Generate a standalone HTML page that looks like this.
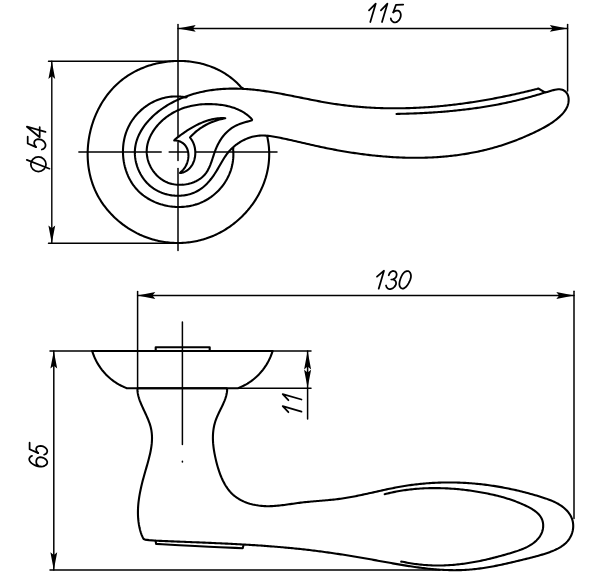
<!DOCTYPE html>
<html><head><meta charset="utf-8"><style>
html,body{margin:0;padding:0;background:#fff;}
svg{display:block;}
text{font-family:"Liberation Sans",sans-serif;font-style:italic;fill:#000;}
</style></head><body>
<svg width="600" height="574" viewBox="0 0 600 574">
<g stroke="#000" fill="none" stroke-linecap="round" stroke-linejoin="round">
<line x1="178.00" y1="28.40" x2="567.50" y2="28.40" stroke-width="1.50"/>
<path d="M178.00,28.40 L195.70,25.00 L192.90,28.40 L195.70,31.80 Z" fill="#000" stroke="none"/>
<path d="M567.50,28.40 L549.80,31.80 L552.60,28.40 L549.80,25.00 Z" fill="#000" stroke="none"/>
<line x1="178.00" y1="24.50" x2="178.00" y2="137.50" stroke-width="1.50"/>
<line x1="178.00" y1="142.50" x2="178.00" y2="160.50" stroke-width="1.50"/>
<line x1="178.00" y1="168.50" x2="178.00" y2="250.50" stroke-width="1.50"/>
<line x1="567.60" y1="24.50" x2="567.60" y2="91.00" stroke-width="1.50"/>
<line x1="51.80" y1="61.20" x2="51.80" y2="243.20" stroke-width="1.40"/>
<path d="M51.80,61.20 L55.20,78.90 L51.80,76.10 L48.40,78.90 Z" fill="#000" stroke="none"/>
<path d="M51.80,243.20 L48.40,225.50 L51.80,228.30 L55.20,225.50 Z" fill="#000" stroke="none"/>
<line x1="48.50" y1="61.20" x2="178.00" y2="61.20" stroke-width="1.50"/>
<line x1="48.50" y1="243.20" x2="178.00" y2="243.20" stroke-width="1.50"/>
<line x1="78.90" y1="152.00" x2="161.20" y2="152.00" stroke-width="1.50"/>
<line x1="169.20" y1="152.00" x2="277.00" y2="152.00" stroke-width="1.50"/>
<path d="M242.60,87.90 L241.44,87.62 L240.40,86.45 L239.35,85.31 L238.28,84.19 L237.18,83.11 L236.07,82.05 L234.94,81.01 L233.79,80.01 L232.61,79.03 L231.43,78.07 L230.22,77.14 L229.00,76.24 L227.76,75.37 L226.50,74.52 L225.23,73.70 L223.94,72.91 L222.64,72.14 L221.33,71.40 L220.00,70.68 L218.65,69.99 L217.30,69.32 L215.93,68.69 L214.55,68.07 L213.16,67.49 L211.76,66.92 L210.34,66.39 L208.92,65.88 L207.49,65.39 L206.04,64.93 L204.59,64.50 L203.14,64.09 L201.67,63.71 L200.19,63.35 L198.71,63.01 L197.23,62.71 L195.73,62.42 L194.23,62.16 L192.73,61.93 L191.22,61.72 L189.71,61.53 L188.19,61.37 L186.67,61.24 L185.15,61.13 L183.63,61.04 L182.10,60.98 L180.58,60.94 L179.05,60.93 L177.52,60.94 L175.99,60.97 L174.47,61.03 L172.94,61.11 L171.41,61.22 L169.89,61.35 L168.37,61.50 L166.85,61.68 L165.34,61.88 L163.83,62.10 L162.32,62.35 L160.82,62.62 L159.33,62.91 L157.84,63.23 L156.35,63.57 L154.87,63.93 L153.40,64.32 L151.94,64.73 L150.49,65.16 L149.04,65.62 L147.60,66.10 L146.17,66.60 L144.75,67.12 L143.35,67.67 L141.95,68.23 L140.56,68.83 L139.19,69.44 L137.83,70.07 L136.48,70.73 L135.14,71.41 L133.82,72.11 L132.51,72.84 L131.22,73.58 L129.94,74.35 L128.67,75.14 L127.43,75.95 L126.19,76.78 L124.98,77.64 L123.78,78.52 L122.60,79.41 L121.44,80.33 L120.30,81.27 L119.17,82.23 L118.06,83.21 L116.97,84.21 L115.90,85.23 L114.85,86.27 L113.82,87.32 L112.80,88.39 L111.80,89.49 L110.83,90.59 L109.87,91.72 L108.93,92.86 L108.00,94.02 L107.10,95.19 L106.22,96.38 L105.35,97.59 L104.51,98.81 L103.68,100.04 L102.88,101.29 L102.09,102.55 L101.33,103.82 L100.58,105.11 L99.85,106.41 L99.15,107.72 L98.46,109.04 L97.80,110.37 L97.15,111.72 L96.52,113.07 L95.92,114.44 L95.34,115.81 L94.77,117.20 L94.23,118.59 L93.71,119.99 L93.21,121.40 L92.73,122.82 L92.27,124.24 L91.83,125.67 L91.41,127.11 L91.02,128.55 L90.64,130.00 L90.29,131.46 L89.96,132.92 L89.65,134.39 L89.36,135.86 L89.10,137.33 L88.85,138.81 L88.63,140.29 L88.43,141.77 L88.26,143.26 L88.10,144.74 L87.97,146.23 L87.86,147.73 L87.78,149.22 L87.71,150.71 L87.67,152.20 L87.65,153.69 L87.66,155.19 L87.69,156.68 L87.74,158.17 L87.81,159.65 L87.91,161.14 L88.03,162.62 L88.17,164.10 L88.34,165.58 L88.53,167.05 L88.75,168.52 L88.99,169.98 L89.25,171.44 L89.54,172.90 L89.85,174.35 L90.19,175.79 L90.55,177.23 L90.93,178.66 L91.34,180.08 L91.78,181.50 L92.24,182.90 L92.72,184.30 L93.23,185.69 L93.76,187.07 L94.32,188.45 L94.90,189.81 L95.51,191.16 L96.15,192.50 L96.80,193.84 L97.49,195.16 L98.20,196.46 L98.93,197.76 L99.69,199.04 L100.48,200.32 L101.28,201.58 L102.11,202.82 L102.97,204.05 L103.84,205.27 L104.74,206.48 L105.66,207.67 L106.60,208.84 L107.56,210.01 L108.54,211.15 L109.54,212.28 L110.56,213.40 L111.60,214.50 L112.66,215.58 L113.74,216.65 L114.83,217.70 L115.95,218.73 L117.08,219.74 L118.22,220.74 L119.39,221.72 L120.57,222.68 L121.76,223.62 L122.97,224.54 L124.20,225.45 L125.44,226.33 L126.69,227.19 L127.96,228.04 L129.24,228.86 L130.54,229.66 L131.85,230.45 L133.17,231.21 L134.50,231.94 L135.84,232.66 L137.19,233.36 L138.56,234.03 L139.93,234.68 L141.32,235.30 L142.71,235.90 L144.11,236.48 L145.53,237.04 L146.95,237.57 L148.37,238.07 L149.81,238.55 L151.25,239.01 L152.70,239.44 L154.16,239.85 L155.62,240.23 L157.09,240.59 L158.56,240.92 L160.03,241.23 L161.51,241.51 L163.00,241.77 L164.49,242.00 L165.98,242.21 L167.47,242.39 L168.97,242.55 L170.47,242.69 L171.97,242.80 L173.47,242.88 L174.97,242.94 L176.47,242.98 L177.98,242.99 L179.48,242.98 L180.98,242.94 L182.48,242.88 L183.98,242.79 L185.47,242.68 L186.96,242.54 L188.45,242.38 L189.94,242.20 L191.42,241.99 L192.90,241.76 L194.38,241.50 L195.85,241.22 L197.31,240.91 L198.77,240.58 L200.22,240.23 L201.67,239.85 L203.11,239.44 L204.54,239.02 L205.97,238.57 L207.38,238.09 L208.79,237.59 L210.19,237.07 L211.58,236.52 L212.96,235.95 L214.33,235.35 L215.69,234.74 L217.04,234.10 L218.39,233.43 L219.72,232.75 L221.03,232.04 L222.34,231.32 L223.64,230.57 L224.92,229.80 L226.19,229.01 L227.45,228.20 L228.70,227.37 L229.93,226.52 L231.15,225.65 L232.36,224.76 L233.55,223.85 L234.73,222.92 L235.89,221.97 L237.04,221.01 L238.17,220.03 L239.29,219.03 L240.39,218.01 L241.48,216.98 L242.55,215.92 L243.60,214.86 L244.64,213.77 L245.66,212.67 L246.66,211.55 L247.65,210.42 L248.61,209.27 L249.56,208.11 L250.49,206.94 L251.40,205.74 L252.29,204.54 L253.16,203.32 L254.02,202.08 L254.85,200.84 L255.66,199.58 L256.45,198.31 L257.22,197.02 L257.97,195.72 L258.70,194.41 L259.41,193.09 L260.09,191.76 L260.75,190.41 L261.39,189.06 L262.01,187.69 L262.60,186.32 L263.17,184.93 L263.72,183.53 L264.24,182.13 L264.74,180.71 L265.21,179.29 L265.66,177.86 L266.08,176.41 L266.48,174.96 L266.85,173.51 L267.20,172.04 L267.52,170.57 L267.81,169.09 L268.08,167.60 L268.31,166.11 L268.53,164.61 L268.71,163.10 L268.86,161.59 L268.99,160.07 L269.09,158.55 L269.16,157.02 L269.20,155.49 L269.21,153.95 L269.19,152.41 L269.14,150.86 L269.06,149.31 L268.95,147.76 L268.81,146.21 L268.63,144.65 L268.43,143.09 L268.19,141.52 L267.93,139.96 L267.62,138.39 L267.29,136.82 L267.56,135.90" stroke-width="2.10" fill="none"/>
<path d="M186.63,97.17 L185.74,97.39 L184.14,97.10 L182.55,96.86 L180.95,96.67 L179.37,96.54 L177.79,96.46 L176.21,96.43 L174.65,96.45 L173.09,96.52 L171.54,96.63 L170.00,96.80 L168.47,97.01 L166.96,97.27 L165.45,97.57 L163.96,97.92 L162.48,98.31 L161.02,98.75 L159.58,99.22 L158.15,99.74 L156.73,100.30 L155.34,100.90 L153.96,101.54 L152.60,102.22 L151.27,102.93 L149.95,103.68 L148.66,104.46 L147.39,105.29 L146.14,106.14 L144.92,107.03 L143.72,107.95 L142.55,108.90 L141.40,109.89 L140.29,110.90 L139.20,111.95 L138.14,113.02 L137.11,114.12 L136.11,115.25 L135.14,116.40 L134.21,117.58 L133.31,118.78 L132.44,120.01 L131.61,121.26 L130.81,122.54 L130.05,123.83 L129.33,125.15 L128.64,126.48 L127.99,127.84 L127.39,129.21 L126.82,130.60 L126.29,132.00 L125.80,133.43 L125.35,134.86 L124.94,136.31 L124.57,137.77 L124.24,139.24 L123.95,140.72 L123.69,142.21 L123.48,143.70 L123.30,145.20 L123.16,146.71 L123.06,148.22 L122.99,149.73 L122.97,151.24 L122.98,152.75 L123.03,154.27 L123.12,155.78 L123.24,157.28 L123.40,158.79 L123.60,160.29 L123.83,161.78 L124.10,163.26 L124.41,164.74 L124.75,166.20 L125.13,167.66 L125.55,169.10 L126.00,170.53 L126.49,171.94 L127.01,173.34 L127.57,174.72 L128.16,176.09 L128.79,177.43 L129.46,178.76 L130.16,180.06 L130.89,181.34 L131.66,182.60 L132.46,183.83 L133.30,185.04 L134.17,186.22 L135.07,187.37 L136.01,188.50 L136.98,189.59 L137.99,190.65 L139.03,191.68 L140.10,192.68 L141.20,193.65 L142.33,194.58 L143.49,195.48 L144.67,196.35 L145.88,197.19 L147.12,197.99 L148.38,198.76 L149.66,199.50 L150.96,200.20 L152.29,200.87 L153.63,201.51 L154.99,202.11 L156.37,202.68 L157.77,203.21 L159.18,203.71 L160.60,204.17 L162.04,204.60 L163.49,205.00 L164.95,205.36 L166.42,205.68 L167.90,205.97 L169.39,206.22 L170.88,206.43 L172.38,206.61 L173.88,206.75 L175.38,206.86 L176.89,206.93 L178.40,206.96 L179.91,206.95 L181.41,206.91 L182.92,206.83 L184.42,206.71 L185.92,206.56 L187.41,206.36 L188.89,206.13 L190.37,205.86 L191.84,205.55 L193.30,205.20 L194.75,204.81 L196.18,204.38 L197.60,203.92 L199.01,203.41 L200.41,202.86 L201.78,202.28 L203.14,201.65 L204.48,200.98 L205.80,200.28 L207.11,199.53 L208.39,198.75 L209.65,197.93 L210.88,197.08 L212.09,196.19 L213.28,195.27 L214.45,194.31 L215.58,193.32 L216.69,192.30 L217.77,191.25 L218.83,190.17 L219.85,189.06 L220.85,187.91 L221.81,186.75 L222.74,185.55 L223.64,184.33 L224.50,183.08 L225.33,181.80 L226.12,180.51 L226.88,179.18 L227.60,177.84 L228.28,176.47 L228.93,175.09 L229.53,173.68 L230.09,172.25 L230.62,170.81 L231.09,169.35 L231.53,167.87 L231.92,166.37 L232.27,164.86 L232.57,163.33 L232.83,161.79 L233.03,160.23 L233.19,158.67 L233.30,157.09 L233.36,155.50 L233.37,153.90 L233.33,152.29 L233.24,150.68 L233.09,149.05 L233.37,148.27" stroke-width="2.10" fill="none"/>
<path d="M538.30,88.50 L536.81,88.99 L535.36,89.35 L533.92,89.71 L532.47,90.07 L531.02,90.43 L529.57,90.78 L528.12,91.13 L526.67,91.48 L525.22,91.82 L523.77,92.17 L522.31,92.50 L520.86,92.84 L519.40,93.17 L517.94,93.50 L516.48,93.83 L515.02,94.16 L513.56,94.48 L512.10,94.80 L510.63,95.11 L509.17,95.43 L507.70,95.74 L506.24,96.04 L504.77,96.35 L503.30,96.65 L501.83,96.94 L500.36,97.24 L498.89,97.53 L497.42,97.81 L495.94,98.10 L494.47,98.38 L492.99,98.66 L491.52,98.93 L490.04,99.20 L488.56,99.47 L487.08,99.73 L485.60,99.99 L484.12,100.25 L482.64,100.50 L481.16,100.75 L479.68,101.00 L478.20,101.24 L476.71,101.48 L475.23,101.72 L473.74,101.95 L472.26,102.18 L470.77,102.40 L469.28,102.62 L467.79,102.84 L466.30,103.05 L464.82,103.26 L463.33,103.47 L461.83,103.67 L460.34,103.87 L458.85,104.06 L457.36,104.25 L455.87,104.44 L454.37,104.62 L452.88,104.80 L451.39,104.97 L449.89,105.14 L448.40,105.31 L446.90,105.47 L445.41,105.63 L443.91,105.78 L442.41,105.93 L440.92,106.07 L439.42,106.21 L437.92,106.35 L436.42,106.48 L434.92,106.61 L433.42,106.73 L431.93,106.85 L430.43,106.97 L428.93,107.08 L427.43,107.18 L425.93,107.28 L424.43,107.38 L422.93,107.47 L421.42,107.56 L419.92,107.64 L418.42,107.72 L416.92,107.79 L415.42,107.86 L413.92,107.92 L412.42,107.98 L410.92,108.04 L409.41,108.09 L407.91,108.13 L406.41,108.17 L404.91,108.21 L403.41,108.24 L401.90,108.27 L400.40,108.29 L398.90,108.30 L397.40,108.31 L395.90,108.32 L394.39,108.32 L392.89,108.31 L391.39,108.31 L389.89,108.29 L388.39,108.27 L386.89,108.25 L385.39,108.22 L383.89,108.18 L382.38,108.14 L380.88,108.09 L379.38,108.04 L377.88,107.99 L376.38,107.93 L374.88,107.86 L373.39,107.79 L371.89,107.71 L370.39,107.62 L368.89,107.54 L367.39,107.44 L365.89,107.34 L364.40,107.24 L362.90,107.12 L361.40,107.01 L359.91,106.89 L358.41,106.76 L356.92,106.62 L355.42,106.48 L353.93,106.34 L352.43,106.19 L350.94,106.03 L349.45,105.87 L347.95,105.70 L346.46,105.53 L344.97,105.35 L343.48,105.16 L341.99,104.97 L340.50,104.77 L339.01,104.57 L337.52,104.36 L336.03,104.14 L334.55,103.92 L333.06,103.69 L331.57,103.46 L330.09,103.22 L328.61,102.97 L327.12,102.72 L325.64,102.46 L324.16,102.20 L322.67,101.94 L321.19,101.67 L319.71,101.39 L318.23,101.11 L316.75,100.83 L315.27,100.55 L313.79,100.26 L312.31,99.97 L310.83,99.68 L309.36,99.39 L307.88,99.09 L306.40,98.80 L304.92,98.50 L303.45,98.20 L301.97,97.90 L300.49,97.60 L299.02,97.30 L297.54,97.01 L296.06,96.71 L294.59,96.41 L293.11,96.11 L291.64,95.82 L290.16,95.53 L288.69,95.24 L287.21,94.95 L285.73,94.67 L284.26,94.38 L282.78,94.10 L281.31,93.83 L279.83,93.56 L278.36,93.29 L276.88,93.03 L275.40,92.77 L273.93,92.52 L272.45,92.27 L270.97,92.03 L269.50,91.79 L268.02,91.56 L266.54,91.34 L265.06,91.12 L263.58,90.91 L262.10,90.71 L260.62,90.51 L259.14,90.33 L257.66,90.15 L256.18,89.98 L254.70,89.81 L253.22,89.66 L251.74,89.52 L250.26,89.39 L248.77,89.26 L247.29,89.15 L245.80,89.05 L244.32,88.95 L242.83,88.87 L241.35,88.80 L239.86,88.74 L238.38,88.70 L236.89,88.66 L235.40,88.64 L233.92,88.63 L232.43,88.63 L230.94,88.64 L229.46,88.67 L227.97,88.71 L226.48,88.76 L225.00,88.83 L223.51,88.91 L222.03,89.01 L220.54,89.12 L219.06,89.25 L217.57,89.39 L216.09,89.54 L214.61,89.71 L213.12,89.90 L211.64,90.10 L210.16,90.32 L208.68,90.56 L207.20,90.81 L205.72,91.08 L204.24,91.37 L202.77,91.67 L201.29,91.99 L199.82,92.33 L198.35,92.68 L196.88,93.06 L195.41,93.45 L193.95,93.86 L192.49,94.29 L191.04,94.74 L189.59,95.20 L188.15,95.68 L186.71,96.19 L185.28,96.71 L183.86,97.25 L182.44,97.80 L181.03,98.38 L179.64,98.98 L178.25,99.59 L176.86,100.23 L175.49,100.88 L174.13,101.55 L172.78,102.25 L171.45,102.96 L170.12,103.69 L168.81,104.44 L167.50,105.22 L166.22,106.01 L164.94,106.82 L163.68,107.65 L162.44,108.51 L161.21,109.38 L159.99,110.27 L158.79,111.19 L157.61,112.12 L156.45,113.08 L155.30,114.06 L154.17,115.06 L153.06,116.08 L151.97,117.12 L150.90,118.18 L149.86,119.26 L148.83,120.36 L147.83,121.48 L146.86,122.62 L145.92,123.78 L145.00,124.96 L144.11,126.16 L143.26,127.37 L142.44,128.61 L141.65,129.86 L140.90,131.12 L140.19,132.40 L139.51,133.70 L138.88,135.02 L138.28,136.35 L137.73,137.69 L137.22,139.06 L136.76,140.43 L136.34,141.82 L135.97,143.22 L135.66,144.64 L135.39,146.07 L135.17,147.51 L135.01,148.96 L134.90,150.43 L134.85,151.90 L134.86,153.39 L134.92,154.89 L135.03,156.39 L135.21,157.90 L135.43,159.40 L135.71,160.91 L136.04,162.41 L136.43,163.90 L136.86,165.38 L137.34,166.86 L137.88,168.31 L138.46,169.75 L139.09,171.18 L139.76,172.58 L140.49,173.95 L141.25,175.30 L142.07,176.63 L142.92,177.91 L143.82,179.17 L144.76,180.39 L145.75,181.57 L146.77,182.70 L147.84,183.80 L148.94,184.85 L150.08,185.85 L151.26,186.80 L152.47,187.71 L153.71,188.57 L154.98,189.38 L156.28,190.14 L157.61,190.86 L158.96,191.52 L160.33,192.14 L161.73,192.72 L163.14,193.24 L164.57,193.71 L166.01,194.14 L167.47,194.51 L168.94,194.84 L170.42,195.12 L171.90,195.35 L173.40,195.52 L174.89,195.65 L176.39,195.73 L177.89,195.76 L179.38,195.74 L180.88,195.66 L182.36,195.54 L183.84,195.37 L185.31,195.14 L186.77,194.86 L188.22,194.53 L189.65,194.15 L191.07,193.72 L192.47,193.24 L193.84,192.70 L195.20,192.11 L196.53,191.47 L197.83,190.78 L199.11,190.03 L200.35,189.23 L201.57,188.38 L202.75,187.48 L203.91,186.52 L205.03,185.52 L206.12,184.49 L207.18,183.41 L208.22,182.29 L209.22,181.15 L210.20,179.97 L211.16,178.77 L212.08,177.55 L212.99,176.31 L213.87,175.05 L214.73,173.78 L215.56,172.49 L216.37,171.21 L217.16,169.92 L217.94,168.63 L218.69,167.34 L219.43,166.05 L220.17,164.77 L220.90,163.50 L221.63,162.24 L222.36,160.98 L223.11,159.74 L223.86,158.51 L224.64,157.29 L225.44,156.09 L226.27,154.90 L227.13,153.73 L228.03,152.58 L228.96,151.45 L229.95,150.35 L230.98,149.27 L232.06,148.21 L233.18,147.18 L234.35,146.18 L235.56,145.21 L236.81,144.28 L238.08,143.38 L239.40,142.52 L240.74,141.70 L242.10,140.93 L243.50,140.19 L244.91,139.51 L246.34,138.87 L247.78,138.28 L249.24,137.74 L250.71,137.26 L252.19,136.84 L253.67,136.47 L255.15,136.17 L256.63,135.92 L258.11,135.74 L259.59,135.62 L261.07,135.54 L262.55,135.52 L264.03,135.54 L265.50,135.61 L266.98,135.71 L268.45,135.85 L269.92,136.02 L271.39,136.22 L272.86,136.44 L274.32,136.69 L275.79,136.95 L277.25,137.23 L278.72,137.52 L280.18,137.82 L281.64,138.12 L283.10,138.43 L284.55,138.74 L286.01,139.05 L287.46,139.37 L288.91,139.69 L290.37,140.01 L291.82,140.34 L293.27,140.67 L294.72,141.00 L296.17,141.33 L297.62,141.66 L299.07,142.00 L300.52,142.33 L301.97,142.67 L303.42,143.00 L304.87,143.34 L306.32,143.67 L307.77,144.01 L309.22,144.34 L310.68,144.67 L312.13,145.00 L313.58,145.33 L315.04,145.66 L316.50,145.98 L317.96,146.30 L319.42,146.62 L320.88,146.93 L322.34,147.25 L323.81,147.55 L325.27,147.86 L326.74,148.16 L328.21,148.45 L329.68,148.75 L331.16,149.04 L332.63,149.32 L334.11,149.60 L335.58,149.88 L337.06,150.16 L338.54,150.43 L340.02,150.69 L341.50,150.95 L342.99,151.21 L344.47,151.46 L345.96,151.71 L347.45,151.96 L348.93,152.20 L350.42,152.43 L351.91,152.67 L353.40,152.89 L354.90,153.12 L356.39,153.33 L357.88,153.55 L359.38,153.76 L360.87,153.96 L362.37,154.16 L363.87,154.36 L365.37,154.55 L366.87,154.73 L368.37,154.91 L369.87,155.09 L371.37,155.26 L372.87,155.42 L374.37,155.58 L375.87,155.74 L377.38,155.89 L378.88,156.03 L380.38,156.17 L381.89,156.30 L383.39,156.43 L384.90,156.56 L386.40,156.67 L387.91,156.79 L389.41,156.89 L390.92,156.99 L392.43,157.09 L393.93,157.18 L395.44,157.26 L396.95,157.34 L398.45,157.41 L399.96,157.48 L401.47,157.54 L402.97,157.59 L404.48,157.64 L405.98,157.68 L407.49,157.72 L409.00,157.75 L410.50,157.77 L412.01,157.79 L413.51,157.80 L415.02,157.81 L416.52,157.80 L418.03,157.80 L419.53,157.78 L421.04,157.76 L422.54,157.73 L424.04,157.70 L425.54,157.66 L427.04,157.61 L428.54,157.55 L430.05,157.49 L431.54,157.43 L433.04,157.35 L434.54,157.27 L436.04,157.18 L437.54,157.08 L439.03,156.98 L440.53,156.87 L442.02,156.75 L443.51,156.63 L445.01,156.50 L446.50,156.36 L447.99,156.21 L449.48,156.06 L450.96,155.89 L452.45,155.73 L453.94,155.55 L455.42,155.36 L456.91,155.17 L458.39,154.97 L459.87,154.77 L461.35,154.55 L462.83,154.33 L464.30,154.10 L465.78,153.86 L467.25,153.61 L468.73,153.36 L470.20,153.09 L471.67,152.82 L473.14,152.54 L474.60,152.26 L476.07,151.96 L477.53,151.66 L478.99,151.35 L480.45,151.03 L481.91,150.70 L483.37,150.36 L484.82,150.01 L486.27,149.66 L487.73,149.30 L489.17,148.92 L490.62,148.54 L492.07,148.15 L493.51,147.76 L494.95,147.35 L496.39,146.93 L497.83,146.51 L499.26,146.08 L500.69,145.63 L502.13,145.18 L503.55,144.72 L504.98,144.25 L506.40,143.77 L507.82,143.28 L509.24,142.79 L510.66,142.28 L512.07,141.76 L513.48,141.24 L514.89,140.71 L516.30,140.17 L517.70,139.62 L519.10,139.06 L520.49,138.50 L521.89,137.93 L523.27,137.35 L524.66,136.76 L526.04,136.16 L527.42,135.56 L528.79,134.95 L530.17,134.33 L531.53,133.71 L532.89,133.08 L534.25,132.44 L535.61,131.80 L536.96,131.14 L538.30,130.48 L539.64,129.81 L540.97,129.13 L542.29,128.44 L543.61,127.73 L544.92,127.01 L546.22,126.27 L547.50,125.51 L548.78,124.73 L550.04,123.94 L551.30,123.11 L552.53,122.27 L553.76,121.40 L554.97,120.50 L556.16,119.58 L557.34,118.62 L558.50,117.63 L559.64,116.62 L560.77,115.56 L561.86,114.47 L562.91,113.34 L563.90,112.17 L564.83,110.95 L565.69,109.67 L566.45,108.35 L567.12,106.97 L567.68,105.52 L568.12,104.02 L568.44,102.49 L568.62,100.94 L568.65,99.41 L568.55,97.91 L568.28,96.49 L567.85,95.15 L567.27,93.92 L566.54,92.81 L565.67,91.83 L564.67,90.99 L563.56,90.30 L562.34,89.78 L561.02,89.44 L559.61,89.29 L558.14,89.31 L556.61,89.47 L555.04,89.74 L553.45,90.11 L551.87,90.53 L550.30,91.00 L548.77,91.48 L547.29,91.94 L545.88,92.36 L544.50,92.10 L541.50,90.30 L538.30,88.50 Z" stroke-width="2.10" fill="none"/>
<path d="M396.50,114.00 L398.00,113.87 L399.50,113.84 L401.00,113.81 L402.50,113.78 L404.00,113.74 L405.50,113.70 L406.99,113.66 L408.49,113.61 L409.99,113.57 L411.49,113.52 L412.99,113.46 L414.49,113.40 L415.99,113.35 L417.49,113.28 L419.00,113.22 L420.50,113.15 L422.00,113.08 L423.50,113.00 L425.00,112.92 L426.50,112.84 L428.00,112.76 L429.50,112.67 L431.00,112.58 L432.50,112.48 L434.00,112.39 L435.50,112.28 L437.00,112.18 L438.50,112.07 L440.00,111.96 L441.50,111.84 L443.00,111.72 L444.50,111.60 L446.00,111.47 L447.49,111.34 L448.99,111.21 L450.49,111.07 L451.99,110.93 L453.48,110.78 L454.98,110.63 L456.48,110.48 L457.97,110.32 L459.47,110.16 L460.96,110.00 L462.45,109.83 L463.95,109.65 L465.44,109.47 L466.93,109.29 L468.42,109.11 L469.92,108.91 L471.41,108.72 L472.90,108.52 L474.38,108.32 L475.87,108.11 L477.36,107.89 L478.85,107.68 L480.33,107.45 L481.82,107.23 L483.30,107.00 L484.79,106.76 L486.27,106.52 L487.75,106.27 L489.23,106.02 L490.71,105.77 L492.19,105.51 L493.67,105.24 L495.14,104.97 L496.62,104.70 L498.09,104.42 L499.57,104.14 L501.04,103.85 L502.51,103.55 L503.98,103.25 L505.45,102.94 L506.92,102.63 L508.39,102.32 L509.85,102.00 L511.32,101.67 L512.78,101.34 L514.24,101.00 L515.70,100.66 L517.16,100.31 L518.62,99.96 L520.08,99.60 L521.53,99.23 L522.99,98.86 L524.44,98.49 L525.89,98.10 L527.34,97.72 L528.79,97.32 L530.23,96.92 L531.68,96.52 L533.12,96.11 L534.56,95.69 L536.00,95.27 L537.44,94.84 L538.88,94.40 L540.32,93.96 L541.75,93.51 L543.18,93.06 L544.50,92.30" stroke-width="2.10" fill="none"/>
<path d="M251.29,118.57 L250.23,117.52 L249.14,116.51 L248.01,115.55 L246.86,114.63 L245.67,113.77 L244.46,112.94 L243.22,112.17 L241.95,111.43 L240.66,110.74 L239.34,110.08 L238.01,109.47 L236.65,108.90 L235.27,108.36 L233.88,107.86 L232.46,107.40 L231.03,106.97 L229.59,106.58 L228.14,106.22 L226.67,105.89 L225.19,105.59 L223.70,105.32 L222.21,105.08 L220.71,104.87 L219.20,104.68 L217.69,104.52 L216.17,104.39 L214.66,104.28 L213.14,104.19 L211.62,104.13 L210.11,104.09 L208.59,104.08 L207.07,104.10 L205.56,104.14 L204.05,104.20 L202.54,104.30 L201.04,104.42 L199.54,104.57 L198.04,104.74 L196.55,104.95 L195.07,105.18 L193.59,105.44 L192.12,105.73 L190.66,106.05 L189.20,106.40 L187.76,106.78 L186.32,107.18 L184.89,107.62 L183.48,108.09 L182.07,108.60 L180.68,109.13 L179.30,109.69 L177.94,110.29 L176.58,110.92 L175.25,111.58 L173.92,112.28 L172.61,113.01 L171.32,113.77 L170.05,114.57 L168.79,115.40 L167.55,116.27 L166.33,117.17 L165.12,118.10 L163.94,119.07 L162.79,120.08 L161.65,121.11 L160.54,122.17 L159.47,123.27 L158.42,124.39 L157.40,125.54 L156.42,126.72 L155.48,127.92 L154.57,129.14 L153.70,130.39 L152.87,131.66 L152.09,132.94 L151.35,134.25 L150.66,135.58 L150.02,136.92 L149.43,138.28 L148.89,139.65 L148.41,141.03 L147.98,142.43 L147.61,143.84 L147.30,145.26 L147.05,146.69 L146.87,148.12 L146.75,149.57 L146.70,151.01 L146.72,152.47 L146.81,153.92 L146.97,155.37 L147.19,156.82 L147.48,158.27 L147.83,159.70 L148.25,161.13 L148.73,162.54 L149.27,163.93 L149.88,165.30 L150.53,166.65 L151.25,167.97 L152.02,169.26 L152.84,170.52 L153.72,171.75 L154.65,172.93 L155.63,174.08 L156.66,175.18 L157.73,176.24 L158.85,177.25 L160.02,178.20 L161.23,179.10 L162.48,179.94 L163.77,180.73 L165.10,181.44 L166.47,182.09 L167.87,182.68 L169.31,183.19 L170.79,183.63 L172.28,183.99 L173.81,184.29 L175.35,184.52 L176.90,184.69 L178.46,184.78 L180.04,184.81 L181.61,184.77 L183.18,184.67 L184.74,184.50 L186.30,184.27 L187.84,183.97 L189.36,183.61 L190.86,183.20 L192.33,182.72 L193.77,182.18 L195.17,181.58 L196.54,180.93 L197.86,180.21 L199.13,179.44 L200.36,178.62 L201.52,177.73 L202.63,176.80 L203.67,175.81 L204.65,174.76 L205.55,173.67 L206.39,172.53 L207.16,171.34 L207.89,170.11 L208.56,168.84 L209.18,167.54 L209.77,166.21 L210.33,164.85 L210.85,163.47 L211.36,162.07 L211.85,160.66 L212.32,159.23 L212.79,157.79 L213.26,156.35 L213.73,154.91 L214.22,153.47 L214.72,152.03 L215.24,150.61 L215.79,149.20 L216.36,147.80 L216.97,146.43 L217.62,145.07 L218.29,143.73 L219.00,142.42 L219.75,141.13 L220.52,139.87 L221.34,138.64 L222.19,137.43 L223.08,136.26 L224.00,135.12 L224.96,134.02 L225.96,132.95 L227.00,131.92 L228.08,130.93 L229.20,129.98 L230.36,129.07 L231.56,128.21 L232.80,127.39 L234.09,126.62 L235.41,125.90 L236.78,125.23 L238.19,124.61 L239.64,124.03 L241.12,123.49 L242.63,122.98 L244.16,122.50 L245.72,122.05 L247.29,121.62 L248.88,121.22 L250.49,120.82 L251.82,120.37 L252.12,119.62 L251.29,118.57 Z" stroke-width="2.10" fill="none"/>
<path d="M225.30,118.30 L223.76,118.12 L222.26,118.11 L220.76,118.15 L219.27,118.25 L217.79,118.39 L216.31,118.57 L214.84,118.80 L213.38,119.07 L211.92,119.38 L210.47,119.73 L209.03,120.12 L207.60,120.55 L206.18,121.02 L204.77,121.51 L203.36,122.05 L201.97,122.61 L200.58,123.20 L199.20,123.82 L197.84,124.47 L196.48,125.15 L195.13,125.84 L193.80,126.57 L192.47,127.31 L191.16,128.08 L189.86,128.86 L188.57,129.66 L187.29,130.48 L186.02,131.31 L184.77,132.16 L183.53,133.01 L182.30,133.88 L181.08,134.76 L179.88,135.64 L178.69,136.54 L177.51,137.43 L176.35,138.33 L175.21,139.23 L174.20,140.40 L175.84,140.47 L177.60,140.76 L179.23,141.22 L180.72,141.82 L182.07,142.56 L183.28,143.42 L184.36,144.40 L185.31,145.48 L186.13,146.66 L186.82,147.92 L187.38,149.25 L187.83,150.65 L188.15,152.09 L188.35,153.58 L188.43,155.10 L188.40,156.64 L188.26,158.19 L188.00,159.73 L187.64,161.27 L187.17,162.78 L186.59,164.26 L185.91,165.69 L185.13,167.07 L184.25,168.38 L183.27,169.62 L182.20,170.77 L181.04,171.83 L180.00,172.90 L181.58,172.84 L183.11,172.41 L184.55,171.86 L185.91,171.18 L187.17,170.38 L188.34,169.48 L189.42,168.48 L190.42,167.38 L191.32,166.21 L192.13,164.95 L192.85,163.63 L193.48,162.26 L194.01,160.83 L194.46,159.36 L194.81,157.85 L195.07,156.31 L195.23,154.76 L195.31,153.20 L195.29,151.63 L195.18,150.07 L194.97,148.53 L194.67,147.00 L194.27,145.50 L193.78,144.05 L193.20,142.63 L192.52,141.28 L191.74,139.98 L190.87,138.75 L190.00,137.50 L190.99,136.35 L192.04,135.26 L193.12,134.19 L194.23,133.16 L195.36,132.15 L196.52,131.18 L197.71,130.24 L198.92,129.32 L200.16,128.44 L201.42,127.59 L202.70,126.77 L204.00,125.99 L205.32,125.23 L206.65,124.51 L208.01,123.82 L209.38,123.17 L210.77,122.55 L212.17,121.96 L213.59,121.41 L215.02,120.90 L216.46,120.42 L217.91,119.97 L219.37,119.56 L220.84,119.19 L222.32,118.86 L223.80,118.56 L225.30,118.30 Z" stroke-width="2.10" fill="#fff"/>
<line x1="137.60" y1="295.50" x2="574.00" y2="295.50" stroke-width="1.50"/>
<path d="M137.60,295.50 L155.30,292.10 L152.50,295.50 L155.30,298.90 Z" fill="#000" stroke="none"/>
<path d="M574.00,295.50 L556.30,298.90 L559.10,295.50 L556.30,292.10 Z" fill="#000" stroke="none"/>
<line x1="137.60" y1="291.50" x2="137.60" y2="388.30" stroke-width="1.50"/>
<line x1="574.00" y1="291.30" x2="574.00" y2="518.50" stroke-width="1.50"/>
<line x1="50.00" y1="351.00" x2="92.00" y2="351.00" stroke-width="1.50"/>
<line x1="273.00" y1="351.00" x2="311.00" y2="351.00" stroke-width="1.50"/>
<line x1="239.00" y1="388.20" x2="311.00" y2="388.20" stroke-width="1.50"/>
<path d="M92.10,351.00 L272.70,351.00 L272.15,352.39 L271.66,353.82 L271.14,355.24 L270.58,356.64 L269.98,358.03 L269.34,359.39 L268.67,360.74 L267.97,362.07 L267.23,363.38 L266.45,364.67 L265.65,365.94 L264.81,367.18 L263.94,368.41 L263.04,369.61 L262.11,370.78 L261.14,371.93 L260.15,373.06 L259.13,374.16 L258.08,375.23 L257.01,376.27 L255.90,377.29 L254.77,378.28 L253.62,379.23 L252.44,380.16 L251.23,381.06 L250.00,381.92 L248.75,382.75 L247.47,383.55 L246.17,384.31 L244.85,385.04 L243.51,385.74 L242.15,386.39 L240.77,387.02 L239.37,387.60 L238.00,388.20 L126.80,388.20 L125.43,387.60 L124.03,387.02 L122.65,386.39 L121.29,385.74 L119.95,385.04 L118.63,384.31 L117.33,383.55 L116.05,382.75 L114.80,381.92 L113.57,381.06 L112.36,380.16 L111.18,379.23 L110.03,378.28 L108.90,377.29 L107.79,376.27 L106.72,375.23 L105.67,374.16 L104.65,373.06 L103.66,371.93 L102.69,370.78 L101.76,369.61 L100.86,368.41 L99.99,367.18 L99.15,365.94 L98.35,364.67 L97.57,363.38 L96.83,362.07 L96.13,360.74 L95.46,359.39 L94.82,358.03 L94.22,356.64 L93.66,355.24 L93.14,353.82 L92.65,352.39 L92.10,351.00 Z" stroke-width="2.10" fill="none"/>
<path d="M155.7,351 L155.7,347.2 L209.7,347.2 L209.7,351" stroke-width="2.10" fill="none"/>
<line x1="182.40" y1="322.00" x2="182.40" y2="444.40" stroke-width="1.50"/>
<line x1="182.40" y1="461.40" x2="182.40" y2="461.90" stroke-width="1.60"/>
<line x1="307.60" y1="351.00" x2="307.60" y2="419.00" stroke-width="1.50"/>
<path d="M307.60,351.00 L311.10,369.40 L307.60,366.60 L304.10,369.40 Z" fill="#000" stroke="none"/>
<path d="M307.60,388.10 L304.10,369.70 L307.60,372.50 L311.10,369.70 Z" fill="#000" stroke="none"/>
<line x1="50.00" y1="570.00" x2="440.00" y2="570.00" stroke-width="1.50"/>
<line x1="53.80" y1="350.90" x2="53.80" y2="570.00" stroke-width="1.50"/>
<path d="M53.80,350.90 L57.20,368.60 L53.80,365.80 L50.40,368.60 Z" fill="#000" stroke="none"/>
<path d="M53.80,570.00 L50.40,552.30 L53.80,555.10 L57.20,552.30 Z" fill="#000" stroke="none"/>
<path d="M137.70,388.20 L226.60,388.20 L227.16,389.82 L227.05,391.25 L226.86,392.67 L226.60,394.09 L226.27,395.49 L225.88,396.89 L225.43,398.29 L224.93,399.68 L224.39,401.07 L223.81,402.45 L223.20,403.83 L222.57,405.20 L221.92,406.58 L221.25,407.95 L220.58,409.33 L219.90,410.70 L219.23,412.08 L218.57,413.45 L217.93,414.83 L217.32,416.21 L216.73,417.60 L216.18,418.99 L215.67,420.39 L215.21,421.79 L214.79,423.20 L214.42,424.61 L214.09,426.03 L213.81,427.46 L213.57,428.89 L213.36,430.32 L213.20,431.76 L213.07,433.21 L212.98,434.65 L212.93,436.11 L212.91,437.57 L212.92,439.03 L212.96,440.50 L213.04,441.97 L213.14,443.44 L213.28,444.92 L213.44,446.40 L213.62,447.89 L213.83,449.38 L214.07,450.87 L214.32,452.36 L214.60,453.86 L214.90,455.36 L215.21,456.87 L215.54,458.38 L215.89,459.88 L216.26,461.40 L216.64,462.91 L217.04,464.42 L217.45,465.93 L217.89,467.43 L218.34,468.92 L218.82,470.41 L219.32,471.89 L219.84,473.35 L220.38,474.80 L220.95,476.24 L221.54,477.66 L222.16,479.06 L222.81,480.44 L223.49,481.79 L224.19,483.12 L224.93,484.43 L225.69,485.70 L226.49,486.95 L227.32,488.17 L228.19,489.35 L229.09,490.49 L230.02,491.60 L231.00,492.67 L232.01,493.70 L233.05,494.69 L234.14,495.63 L235.27,496.53 L236.43,497.39 L237.63,498.20 L238.86,498.97 L240.12,499.70 L241.41,500.39 L242.73,501.03 L244.07,501.64 L245.44,502.20 L246.83,502.73 L248.24,503.21 L249.67,503.66 L251.11,504.07 L252.57,504.44 L254.05,504.77 L255.53,505.07 L257.02,505.33 L258.52,505.56 L260.03,505.75 L261.54,505.90 L263.06,506.02 L264.57,506.11 L266.09,506.17 L267.60,506.19 L269.11,506.19 L270.62,506.16 L272.13,506.10 L273.64,506.02 L275.15,505.92 L276.66,505.80 L278.17,505.66 L279.68,505.50 L281.19,505.33 L282.69,505.15 L284.20,504.96 L285.70,504.75 L287.21,504.55 L288.71,504.33 L290.21,504.11 L291.71,503.90 L293.21,503.68 L294.71,503.46 L296.20,503.25 L297.70,503.04 L299.20,502.84 L300.69,502.65 L302.18,502.47 L303.67,502.30 L305.16,502.14 L306.65,501.98 L308.14,501.84 L309.63,501.70 L311.11,501.56 L312.60,501.43 L314.09,501.30 L315.57,501.18 L317.05,501.05 L318.54,500.93 L320.02,500.81 L321.50,500.69 L322.98,500.57 L324.46,500.44 L325.94,500.32 L327.42,500.18 L328.90,500.05 L330.38,499.91 L331.86,499.76 L333.34,499.61 L334.82,499.45 L336.30,499.28 L337.78,499.10 L339.26,498.91 L340.74,498.71 L342.22,498.50 L343.70,498.27 L345.18,498.04 L346.66,497.80 L348.14,497.55 L349.62,497.29 L351.10,497.02 L352.58,496.75 L354.06,496.47 L355.54,496.18 L357.02,495.88 L358.50,495.58 L359.98,495.27 L361.46,494.96 L362.95,494.65 L364.43,494.33 L365.91,494.00 L367.39,493.68 L368.87,493.35 L370.36,493.02 L371.84,492.69 L373.32,492.36 L374.80,492.03 L376.28,491.69 L377.77,491.36 L379.25,491.03 L380.73,490.70 L382.22,490.37 L383.70,490.04 L385.18,489.72 L386.67,489.40 L388.15,489.09 L389.63,488.78 L391.12,488.47 L392.60,488.17 L394.08,487.87 L395.57,487.58 L397.05,487.30 L398.53,487.02 L400.02,486.76 L401.50,486.50 L402.99,486.25 L404.47,486.00 L405.95,485.77 L407.44,485.54 L408.92,485.32 L410.41,485.11 L411.89,484.91 L413.38,484.71 L414.86,484.53 L416.34,484.35 L417.83,484.18 L419.31,484.01 L420.80,483.86 L422.28,483.71 L423.77,483.58 L425.25,483.45 L426.74,483.32 L428.22,483.21 L429.71,483.10 L431.19,483.00 L432.68,482.91 L434.16,482.83 L435.65,482.76 L437.13,482.69 L438.62,482.63 L440.10,482.58 L441.59,482.54 L443.07,482.50 L444.56,482.47 L446.04,482.45 L447.53,482.44 L449.02,482.44 L450.50,482.44 L451.99,482.45 L453.47,482.47 L454.96,482.50 L456.44,482.54 L457.93,482.58 L459.41,482.63 L460.90,482.69 L462.38,482.75 L463.87,482.83 L465.35,482.91 L466.84,483.00 L468.32,483.09 L469.81,483.20 L471.29,483.31 L472.78,483.43 L474.26,483.55 L475.75,483.69 L477.23,483.83 L478.72,483.98 L480.20,484.14 L481.69,484.30 L483.17,484.48 L484.66,484.66 L486.14,484.84 L487.63,485.04 L489.11,485.24 L490.60,485.45 L492.08,485.67 L493.57,485.89 L495.05,486.12 L496.53,486.36 L498.02,486.61 L499.50,486.87 L500.99,487.13 L502.47,487.40 L503.96,487.67 L505.44,487.96 L506.92,488.25 L508.41,488.55 L509.89,488.85 L511.38,489.17 L512.86,489.49 L514.34,489.82 L515.83,490.15 L517.31,490.49 L518.79,490.84 L520.28,491.20 L521.76,491.56 L523.24,491.93 L524.72,492.31 L526.21,492.70 L527.69,493.09 L529.17,493.49 L530.66,493.90 L532.14,494.31 L533.62,494.73 L535.10,495.16 L536.58,495.60 L538.07,496.04 L539.55,496.49 L541.03,496.95 L542.51,497.41 L543.99,497.89 L545.46,498.38 L546.92,498.88 L548.37,499.41 L549.81,499.95 L551.23,500.51 L552.64,501.11 L554.03,501.72 L555.39,502.37 L556.73,503.06 L558.04,503.77 L559.32,504.53 L560.57,505.32 L561.79,506.16 L562.96,507.04 L564.10,507.97 L565.20,508.95 L566.26,509.97 L567.26,511.05 L568.20,512.17 L569.08,513.33 L569.89,514.54 L570.62,515.78 L571.27,517.05 L571.83,518.36 L572.30,519.70 L572.67,521.06 L572.94,522.45 L573.12,523.85 L573.21,525.26 L573.21,526.68 L573.12,528.10 L572.94,529.51 L572.67,530.91 L572.32,532.30 L571.89,533.66 L571.37,535.00 L570.77,536.30 L570.10,537.57 L569.35,538.79 L568.52,539.97 L567.62,541.09 L566.65,542.16 L565.62,543.18 L564.52,544.15 L563.36,545.08 L562.16,545.96 L560.90,546.79 L559.60,547.59 L558.26,548.34 L556.88,549.06 L555.47,549.74 L554.04,550.39 L552.58,551.01 L551.10,551.60 L549.61,552.16 L548.11,552.70 L546.61,553.21 L545.10,553.70 L543.60,554.17 L542.10,554.62 L540.61,555.06 L539.14,555.48 L537.68,555.89 L536.22,556.29 L534.77,556.67 L533.33,557.05 L531.90,557.42 L530.46,557.79 L529.03,558.15 L527.60,558.50 L526.17,558.86 L524.74,559.21 L523.30,559.56 L521.86,559.92 L520.42,560.27 L518.97,560.63 L517.52,560.98 L516.07,561.33 L514.61,561.68 L513.15,562.03 L511.69,562.37 L510.23,562.71 L508.76,563.05 L507.29,563.39 L505.82,563.72 L504.35,564.05 L502.87,564.37 L501.40,564.69 L499.92,565.00 L498.44,565.31 L496.95,565.61 L495.47,565.90 L493.98,566.19 L492.50,566.47 L491.01,566.74 L489.52,567.01 L488.03,567.27 L486.54,567.51 L485.05,567.75 L483.55,567.98 L482.06,568.20 L480.56,568.41 L479.07,568.61 L477.58,568.80 L476.08,568.98 L474.58,569.15 L473.09,569.30 L471.59,569.44 L470.10,569.57 L468.60,569.69 L467.11,569.79 L465.61,569.88 L464.12,569.96 L462.63,570.03 L461.13,570.08 L459.64,570.12 L458.15,570.15 L456.65,570.17 L455.16,570.18 L453.67,570.18 L452.18,570.16 L450.69,570.14 L449.19,570.11 L447.70,570.06 L446.21,570.01 L444.72,569.94 L443.23,569.87 L441.74,569.79 L440.25,569.70 L438.76,569.60 L437.27,569.49 L435.78,569.37 L434.29,569.25 L432.80,569.11 L431.31,568.97 L429.83,568.83 L428.34,568.67 L426.85,568.51 L425.36,568.34 L423.87,568.16 L422.39,567.98 L420.90,567.80 L419.41,567.60 L417.92,567.40 L416.44,567.20 L414.95,566.99 L413.47,566.77 L411.98,566.55 L410.49,566.33 L409.01,566.10 L407.52,565.86 L406.04,565.63 L404.55,565.39 L403.07,565.14 L401.58,564.89 L400.10,564.64 L398.61,564.39 L397.13,564.13 L395.64,563.87 L394.16,563.61 L392.68,563.35 L391.19,563.09 L389.71,562.82 L388.23,562.55 L386.74,562.28 L385.26,562.01 L383.78,561.74 L382.29,561.47 L380.81,561.20 L379.33,560.93 L377.85,560.66 L376.36,560.39 L374.88,560.12 L373.40,559.85 L371.92,559.58 L370.44,559.31 L368.95,559.05 L367.47,558.79 L365.99,558.52 L364.51,558.26 L363.03,558.00 L361.55,557.75 L360.06,557.49 L358.58,557.24 L357.10,556.99 L355.62,556.74 L354.14,556.49 L352.66,556.24 L351.18,556.00 L349.70,555.75 L348.21,555.51 L346.73,555.28 L345.25,555.04 L343.77,554.81 L342.29,554.57 L340.81,554.34 L339.32,554.12 L337.84,553.89 L336.36,553.67 L334.87,553.45 L333.39,553.23 L331.91,553.01 L330.42,552.80 L328.94,552.59 L327.46,552.38 L325.97,552.17 L324.49,551.96 L323.00,551.76 L321.52,551.56 L320.03,551.37 L318.54,551.17 L317.06,550.98 L315.57,550.79 L314.08,550.61 L312.59,550.42 L311.11,550.24 L309.62,550.06 L308.13,549.89 L306.64,549.72 L305.15,549.55 L303.66,549.38 L302.17,549.22 L300.67,549.06 L299.18,548.90 L297.69,548.74 L296.20,548.59 L294.70,548.44 L293.21,548.29 L291.72,548.14 L290.22,548.00 L288.73,547.85 L287.23,547.72 L285.74,547.58 L284.24,547.44 L282.74,547.31 L281.25,547.18 L279.75,547.05 L278.25,546.93 L276.76,546.80 L275.26,546.68 L273.76,546.56 L272.26,546.44 L270.76,546.33 L269.27,546.21 L267.77,546.10 L266.27,545.99 L264.77,545.88 L263.27,545.78 L261.77,545.67 L260.27,545.57 L258.77,545.47 L257.27,545.37 L255.77,545.27 L254.27,545.17 L252.77,545.08 L251.26,544.99 L249.76,544.89 L248.26,544.80 L246.76,544.72 L245.26,544.63 L243.76,544.54 L242.25,544.46 L240.75,544.37 L239.25,544.29 L237.75,544.21 L236.25,544.13 L234.74,544.05 L233.24,543.97 L231.74,543.90 L230.24,543.82 L228.73,543.75 L227.23,543.67 L225.73,543.60 L224.23,543.53 L222.72,543.46 L221.22,543.39 L219.72,543.32 L218.21,543.25 L216.71,543.18 L215.21,543.12 L213.71,543.05 L212.21,542.99 L210.70,542.92 L209.20,542.86 L207.70,542.79 L206.20,542.73 L204.69,542.67 L203.19,542.61 L201.69,542.54 L200.19,542.48 L198.69,542.42 L197.19,542.36 L195.69,542.30 L194.18,542.24 L192.68,542.18 L191.18,542.12 L189.68,542.06 L188.18,542.00 L186.68,541.94 L185.18,541.88 L183.68,541.82 L182.18,541.76 L180.69,541.71 L179.19,541.65 L177.69,541.59 L176.19,541.53 L174.69,541.47 L173.19,541.41 L171.70,541.35 L170.20,541.28 L168.70,541.22 L167.20,541.16 L165.71,541.10 L164.21,541.04 L162.72,540.98 L161.22,540.91 L159.73,540.85 L158.23,540.78 L156.70,540.80 L149.00,540.10 L145.00,539.60 L143.63,539.06 L142.94,537.76 L142.30,536.42 L141.73,535.05 L141.20,533.65 L140.72,532.23 L140.29,530.79 L139.90,529.33 L139.55,527.86 L139.25,526.38 L138.97,524.90 L138.74,523.42 L138.53,521.94 L138.36,520.46 L138.21,518.98 L138.10,517.50 L138.02,516.02 L137.97,514.54 L137.94,513.07 L137.94,511.59 L137.97,510.11 L138.02,508.63 L138.10,507.16 L138.20,505.68 L138.32,504.20 L138.47,502.73 L138.63,501.25 L138.82,499.77 L139.03,498.30 L139.25,496.82 L139.50,495.35 L139.76,493.87 L140.04,492.40 L140.33,490.93 L140.64,489.45 L140.96,487.98 L141.29,486.50 L141.64,485.03 L142.00,483.56 L142.37,482.09 L142.74,480.61 L143.13,479.14 L143.53,477.67 L143.93,476.20 L144.34,474.72 L144.76,473.25 L145.18,471.78 L145.60,470.31 L146.03,468.84 L146.45,467.37 L146.88,465.90 L147.30,464.43 L147.71,462.96 L148.12,461.49 L148.51,460.02 L148.90,458.55 L149.27,457.08 L149.63,455.62 L149.97,454.15 L150.29,452.69 L150.59,451.22 L150.86,449.76 L151.11,448.30 L151.34,446.84 L151.53,445.38 L151.70,443.92 L151.83,442.47 L151.92,441.01 L151.98,439.56 L152.01,438.11 L151.99,436.66 L151.92,435.21 L151.82,433.76 L151.67,432.32 L151.47,430.88 L151.22,429.43 L150.91,428.00 L150.56,426.56 L150.15,425.12 L149.69,423.69 L149.19,422.26 L148.65,420.83 L148.08,419.41 L147.48,417.98 L146.86,416.56 L146.22,415.14 L145.57,413.72 L144.91,412.30 L144.24,410.89 L143.58,409.47 L142.93,408.06 L142.29,406.65 L141.67,405.24 L141.06,403.83 L140.49,402.43 L139.95,401.03 L139.45,399.62 L138.99,398.22 L138.58,396.82 L138.22,395.42 L137.92,394.03 L137.68,392.63 L137.52,391.24 L137.42,389.85 L137.70,388.20 Z" stroke-width="2.10" fill="none"/>
<path d="M155.6,540.9 L156.1,543.9 C162.40,544.27 168.52,544.65 175.00,545.00 C181.48,545.35 187.50,545.63 195.00,546.00 C202.50,546.37 212.05,546.83 220.00,547.20 C227.95,547.57 235.13,547.87 242.70,548.20 L243.5,545.2" stroke-width="2.10" fill="none"/>
<path d="M384.70,494.20 L386.20,493.82 L387.64,493.46 L389.09,493.12 L390.55,492.78 L392.01,492.46 L393.47,492.15 L394.93,491.86 L396.40,491.57 L397.87,491.30 L399.34,491.04 L400.82,490.79 L402.30,490.55 L403.78,490.33 L405.26,490.11 L406.75,489.91 L408.24,489.72 L409.73,489.53 L411.22,489.36 L412.72,489.21 L414.21,489.06 L415.71,488.92 L417.21,488.79 L418.72,488.68 L420.22,488.57 L421.72,488.48 L423.23,488.40 L424.73,488.32 L426.24,488.26 L427.75,488.21 L429.26,488.16 L430.77,488.13 L432.28,488.11 L433.79,488.10 L435.30,488.09 L436.81,488.10 L438.32,488.12 L439.83,488.14 L441.35,488.18 L442.86,488.22 L444.37,488.28 L445.88,488.34 L447.39,488.41 L448.89,488.49 L450.40,488.58 L451.91,488.68 L453.42,488.79 L454.92,488.91 L456.42,489.04 L457.93,489.17 L459.43,489.31 L460.93,489.47 L462.42,489.63 L463.92,489.79 L465.41,489.97 L466.90,490.16 L468.39,490.35 L469.88,490.55 L471.37,490.76 L472.85,490.97 L474.33,491.20 L475.81,491.43 L477.28,491.67 L478.75,491.92 L480.22,492.17 L481.69,492.43 L483.15,492.70 L484.61,492.98 L486.06,493.26 L487.52,493.55 L488.96,493.85 L490.41,494.16 L491.85,494.47 L493.29,494.79 L494.73,495.13 L496.17,495.47 L497.60,495.82 L499.03,496.19 L500.46,496.56 L501.89,496.95 L503.32,497.35 L504.75,497.76 L506.17,498.19 L507.60,498.63 L509.03,499.09 L510.46,499.56 L511.89,500.05 L513.32,500.56 L514.75,501.08 L516.18,501.62 L517.62,502.18 L519.05,502.75 L520.49,503.35 L521.93,503.97 L523.38,504.60 L524.82,505.26 L526.27,505.94 L527.70,506.65 L529.12,507.38 L530.51,508.14 L531.87,508.94 L533.19,509.77 L534.46,510.63 L535.68,511.54 L536.82,512.49 L537.90,513.48 L538.90,514.52 L539.81,515.61 L540.62,516.75 L541.34,517.94 L541.94,519.19 L542.42,520.50 L542.79,521.85 L543.03,523.25 L543.17,524.67 L543.18,526.11 L543.09,527.56 L542.88,529.00 L542.56,530.43 L542.13,531.84 L541.60,533.21 L540.95,534.54 L540.21,535.82 L539.38,537.04 L538.48,538.22 L537.51,539.33 L536.50,540.39 L535.43,541.40 L534.32,542.35 L533.16,543.26 L531.97,544.11 L530.73,544.93 L529.47,545.69 L528.17,546.42 L526.84,547.11 L525.48,547.77 L524.10,548.39 L522.69,548.99 L521.27,549.56 L519.83,550.10 L518.37,550.62 L516.91,551.12 L515.43,551.60 L513.94,552.07 L512.46,552.53 L510.97,552.98 L509.48,553.42 L507.99,553.86 L506.50,554.29 L505.02,554.71 L503.54,555.13 L502.06,555.55 L500.58,555.95 L499.10,556.35 L497.62,556.75 L496.15,557.13 L494.68,557.52 L493.21,557.89 L491.73,558.26 L490.27,558.62 L488.80,558.97 L487.33,559.31 L485.86,559.65 L484.40,559.98 L482.93,560.30 L481.47,560.61 L480.00,560.92 L478.54,561.21 L477.08,561.50 L475.61,561.78 L474.15,562.05 L472.69,562.31 L471.22,562.57 L469.76,562.81 L468.30,563.04 L466.84,563.27 L465.37,563.48 L463.91,563.69 L462.44,563.88 L460.98,564.07 L459.51,564.24 L458.05,564.40 L456.58,564.56 L455.11,564.70 L453.65,564.83 L452.18,564.95 L450.71,565.06 L449.23,565.16 L447.76,565.24 L446.29,565.32 L444.81,565.38 L443.33,565.43 L441.85,565.47 L440.37,565.49 L438.89,565.51 L437.41,565.51 L435.92,565.50 L434.43,565.47 L432.94,565.44 L431.45,565.39 L429.96,565.32 L428.46,565.25 L426.96,565.16 L425.46,565.05 L423.95,564.93 L422.45,564.80 L420.94,564.65 L419.42,564.49 L417.91,564.32 L416.39,564.13 L414.87,563.92 L413.35,563.70 L411.82,563.47 L410.29,563.22 L408.75,562.95 L407.22,562.67 L405.67,562.38 L404.13,562.06 L402.58,561.74 L401.20,561.60" stroke-width="2.10" fill="none"/>
</g>
<g stroke="#000" fill="none" stroke-linecap="round" stroke-linejoin="round">
<path d="M369.00,10.30 L375.70,3.70 L370.30,22.00" stroke-width="1.75"/>
<path d="M380.90,10.30 L387.40,3.70 L382.00,22.00" stroke-width="1.75"/>
<path d="M403.20,4.60 L396.00,4.80 L393.30,12.40" stroke-width="1.75"/>
<path d="M393.30,12.40 L394.79,11.14 L396.55,10.58 L398.01,10.61 L399.17,11.14 L400.03,12.06 L400.58,13.28 L400.82,14.70 L400.75,16.21 L400.35,17.73 L399.66,19.15 L398.73,20.41 L397.61,21.43 L396.37,22.13 L395.06,22.43 L393.73,22.26 L392.46,21.53 L391.29,20.18 L390.80,18.40" stroke-width="1.75"/>
<path d="M377.00,276.70 L384.00,270.70 L378.70,288.70" stroke-width="1.75"/>
<path d="M388.75,275.25 L389.54,273.36 L390.77,271.94 L392.12,271.18 L393.47,270.99 L394.72,271.31 L395.73,272.06 L396.41,273.15 L396.66,274.48 L396.47,275.91 L395.83,277.29 L394.70,278.47 L393.08,279.29 L391.25,279.50" stroke-width="1.75"/>
<path d="M393.25,279.40 L394.82,280.24 L395.77,281.49 L396.12,282.86 L395.94,284.28 L395.33,285.65 L394.39,286.90 L393.19,287.95 L391.83,288.71 L390.41,289.10 L389.01,289.04 L387.72,288.44 L386.64,287.23 L386.00,285.50" stroke-width="1.75"/>
<path d="M407.98,271.00 L409.10,271.51 L409.98,272.49 L410.61,273.79 L410.94,275.25 L410.96,276.76 L410.69,278.31 L410.20,279.88 L409.50,281.50 L408.65,283.13 L407.68,284.70 L406.61,286.11 L405.48,287.28 L404.33,288.14 L403.18,288.59 L402.08,288.56 L401.07,288.07 L400.23,287.19 L399.64,286.00 L399.37,284.59 L399.42,283.03 L399.70,281.36 L400.17,279.66 L400.75,277.97 L401.44,276.34 L402.25,274.84 L403.18,273.51 L404.23,272.40 L405.40,271.56 L406.69,271.06 L407.98,271.00 Z" stroke-width="1.75"/>
<path d="M45.50,131.90 L26.90,126.70 L39.70,137.20 L39.70,127.20" stroke-width="1.75"/>
<path d="M27.70,136.70 L27.70,143.50 L36.00,147.10" stroke-width="1.75"/>
<path d="M36.00,147.10 L34.75,145.34 L34.21,143.55 L34.23,142.07 L34.72,140.90 L35.58,140.04 L36.73,139.48 L38.07,139.23 L39.52,139.29 L40.98,139.64 L42.36,140.29 L43.57,141.20 L44.56,142.32 L45.24,143.58 L45.55,144.92 L45.42,146.29 L44.76,147.61 L43.52,148.83 L41.80,149.50" stroke-width="1.75"/>
<path d="M29.60,442.70 L29.60,449.20 L38.20,453.10" stroke-width="1.75"/>
<path d="M38.20,453.10 L36.81,451.44 L36.19,449.70 L36.22,448.30 L36.80,447.22 L37.81,446.47 L39.13,446.04 L40.64,445.93 L42.23,446.15 L43.77,446.68 L45.16,447.52 L46.28,448.61 L47.03,449.87 L47.28,451.22 L46.95,452.59 L45.91,453.88 L44.10,454.70" stroke-width="1.75"/>
<path d="M32.10,455.80 L30.51,456.61 L29.61,457.70 L29.23,458.86 L29.32,460.03 L29.82,461.20 L30.67,462.33 L31.81,463.39 L33.18,464.35 L34.73,465.18 L36.39,465.84 L38.11,466.31 L39.85,466.57 L41.53,466.60 L43.12,466.38 L44.56,465.89 L45.78,465.10 L46.72,464.05 L47.23,462.86 L47.21,461.65 L46.70,460.50 L45.80,459.44 L44.61,458.54 L43.23,457.84 L41.75,457.39 L40.27,457.24 L38.90,457.44 L37.72,458.04 L36.84,459.09 L36.33,460.50 L36.23,462.10 L36.58,463.69 L37.44,465.07 L38.84,466.07 L40.70,466.40" stroke-width="1.75"/>
<path d="M288.40,400.20 L282.70,394.10 L301.50,399.50" stroke-width="1.75"/>
<path d="M288.40,412.20 L282.70,406.10 L301.50,411.70" stroke-width="1.75"/>
<ellipse cx="38.4" cy="164.25" rx="7.6" ry="7.35" stroke-width="1.75"/>
<line x1="26.8" y1="159.9" x2="49.5" y2="168.7" stroke-width="1.75"/>
</g>
</svg>
</body></html>
